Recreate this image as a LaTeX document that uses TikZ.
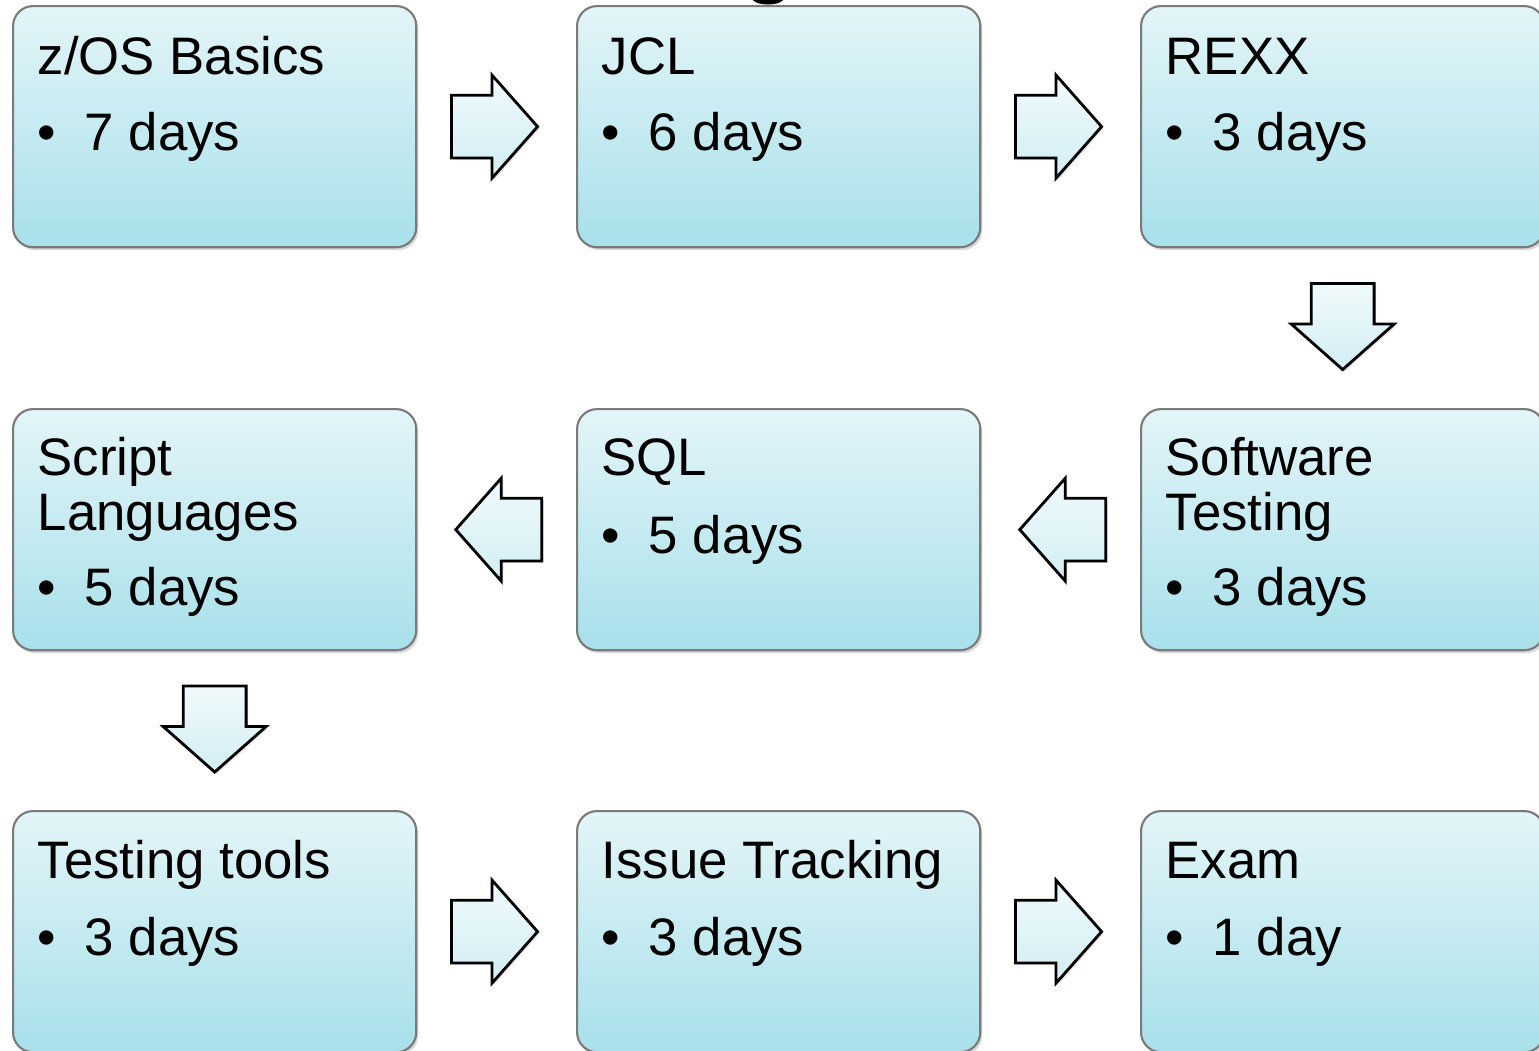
\documentclass[tikz,border=0pt]{standalone}
\usepackage{fontspec}
\setmainfont{Liberation Sans}
\usetikzlibrary{shapes.arrows,shadows,calc}

\definecolor{boxtop}{HTML}{E3F5F8}
\definecolor{boxbot}{HTML}{A8E0EA}
\definecolor{arrtop}{HTML}{F0FAFC}
\definecolor{arrbot}{HTML}{D2EEF3}
\definecolor{boxline}{HTML}{7A7A7A}

\begin{document}
\begin{tikzpicture}[x=0.01cm, y=-0.01cm,
    box/.style={rectangle, rounded corners=0.2cm, draw=boxline, line width=0.6pt,
        top color=boxtop, bottom color=boxbot, anchor=north west,
        minimum width=4.03cm, minimum height=2.41cm, inner sep=0pt,
        drop shadow={shadow xshift=0.02cm, shadow yshift=-0.03cm, opacity=0.3}},
    head/.style={anchor=base west, align=left, inner sep=0pt,
        font=\fontsize{15}{15.65}\selectfont},
    item/.style={anchor=base west, inner sep=0pt, font=\fontsize{15}{15.65}\selectfont},
    blockarrow/.style={single arrow, draw=black, line width=0.8pt,
        top color=arrtop, bottom color=arrbot, inner xsep=0pt, inner ysep=0.3cm,
        minimum height=0.86cm, minimum width=1.0cm,
        single arrow head extend=0.2cm, single arrow tip angle=97,
        drop shadow={shadow xshift=0.02cm, shadow yshift=-0.02cm, opacity=0.2}},
    rarrow/.style={blockarrow, xshift=-0.16cm},
    larrow/.style={blockarrow, shape border rotate=180, xshift=0.16cm},
    darrow/.style={blockarrow, shape border rotate=270, inner xsep=0.3cm, inner ysep=0pt,
        yshift=0.155cm}]
        \useasboundingbox (0,0) rectangle (1539,1050);

        % --- Top row ---
        \node[box] (zos) at (12,5) {};
        \node[box] (jcl) at (576,5) {};
        \node[box] (rexx) at (1140,5) {};
        \fill (768,-2) ellipse [x radius=0.16cm, y radius=0.065cm];
        \node[head] (zos-h) at ([xshift=0.25cm,yshift=-0.69cm]zos.north west) {z/OS Basics};
        \node[item] (zos-i) at ([xshift=0.25cm,yshift=-1.45cm]zos.north west) {\makebox[0.47cm][l]{\textbullet}7 days};
        \node[head] (jcl-h) at ([xshift=0.25cm,yshift=-0.69cm]jcl.north west) {JCL};
        \node[item] (jcl-i) at ([xshift=0.25cm,yshift=-1.45cm]jcl.north west) {\makebox[0.47cm][l]{\textbullet}6 days};
        \node[head] (rexx-h) at ([xshift=0.25cm,yshift=-0.69cm]rexx.north west) {REXX};
        \node[item] (rexx-i) at ([xshift=0.25cm,yshift=-1.45cm]rexx.north west) {\makebox[0.47cm][l]{\textbullet}3 days};
        % ---

        % --- Middle row ---
        \node[box] (scr) at (12,408) {};
        \node[box] (sql) at (576,408) {};
        \node[box] (swt) at (1140,408) {};
        \node[head] (scr-h) at ([xshift=0.25cm,yshift=-1.22cm]scr.north west) {Script\\Languages};
        \node[item] (scr-i) at ([xshift=0.25cm,yshift=-1.97cm]scr.north west) {\makebox[0.47cm][l]{\textbullet}5 days};
        \node[head] (sql-h) at ([xshift=0.25cm,yshift=-0.67cm]sql.north west) {SQL};
        \node[item] (sql-i) at ([xshift=0.25cm,yshift=-1.45cm]sql.north west) {\makebox[0.47cm][l]{\textbullet}5 days};
        \node[head] (swt-h) at ([xshift=0.25cm,yshift=-1.22cm]swt.north west) {Software\\Testing};
        \node[item] (swt-i) at ([xshift=0.25cm,yshift=-1.97cm]swt.north west) {\makebox[0.47cm][l]{\textbullet}3 days};
        % ---

        % --- Bottom row ---
        \node[box] (tools) at (12,810) {};
        \node[box] (issue) at (576,810) {};
        \node[box] (exam) at (1140,810) {};
        \node[head] (tools-h) at ([xshift=0.25cm,yshift=-0.68cm]tools.north west) {Testing tools};
        \node[item] (tools-i) at ([xshift=0.25cm,yshift=-1.45cm]tools.north west) {\makebox[0.47cm][l]{\textbullet}3 days};
        \node[head] (issue-h) at ([xshift=0.25cm,yshift=-0.68cm]issue.north west) {Issue Tracking};
        \node[item] (issue-i) at ([xshift=0.25cm,yshift=-1.45cm]issue.north west) {\makebox[0.47cm][l]{\textbullet}3 days};
        \node[head] (exam-h) at ([xshift=0.25cm,yshift=-0.68cm]exam.north west) {Exam};
        \node[item] (exam-i) at ([xshift=0.25cm,yshift=-1.45cm]exam.north west) {\makebox[0.47cm][l]{\textbullet}1 day};
        % ---

        % --- Arrows between the boxes ---
        \node[rarrow] (a1) at ($(zos.east)!0.5!(jcl.west)$) {};
        \node[rarrow] (a2) at ($(jcl.east)!0.5!(rexx.west)$) {};
        \node[darrow] (a3) at ($(rexx.south)!0.5!(swt.north)$) {};
        \node[larrow] (a4) at ($(sql.east)!0.5!(swt.west)$) {};
        \node[larrow] (a5) at ($(scr.east)!0.5!(sql.west)$) {};
        \node[darrow] (a6) at ($(scr.south)!0.5!(tools.north)$) {};
        \node[rarrow] (a7) at ($(tools.east)!0.5!(issue.west)$) {};
        \node[rarrow] (a8) at ($(issue.east)!0.5!(exam.west)$) {};
        % ---
\end{tikzpicture}
\end{document}
